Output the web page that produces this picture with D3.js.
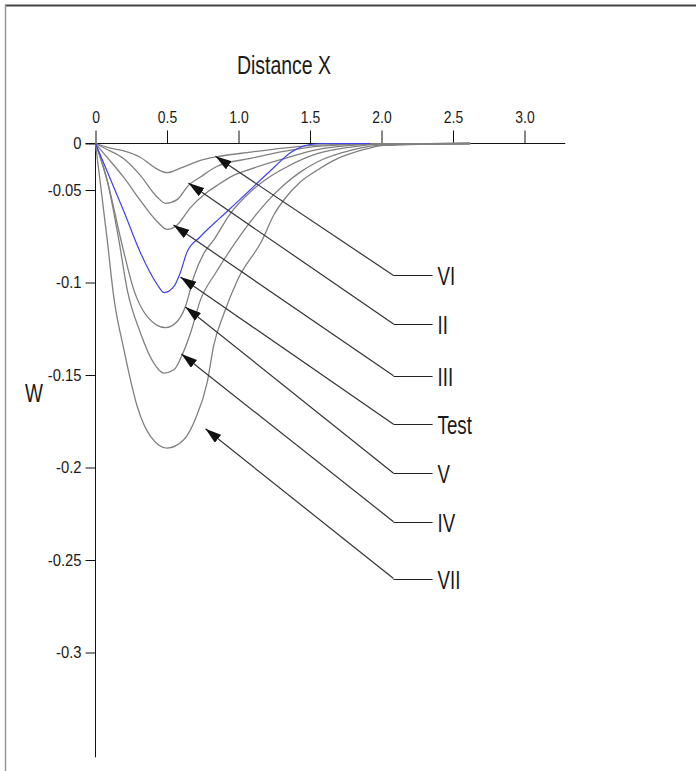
<!DOCTYPE html>
<html>
<head>
<meta charset="utf-8">
<script src="https://cdn.jsdelivr.net/npm/d3@7"></script>
<style>
  html, body { margin: 0; padding: 0; background: #fff; }
  svg { display: block; }
  text { font-family: "Liberation Sans", Arial, sans-serif; fill: #1a1a1a; }
</style>
</head>
<body>
<div id="chart"></div>
<script>
// Tick labels
const xTicks = [0, 0.5, 1.0, 1.5, 2.0, 2.5, 3.0];
const yTicks = [0, -0.05, -0.1, -0.15, -0.2, -0.25, -0.3];

// Curves, [distance X, W]
const curveVI = [[0,0],[0.105,-0.0050],[0.198,-0.0080],[0.315,-0.0150],[0.431,-0.0275],[0.501,-0.0314],[0.594,-0.0265],[0.734,-0.0181],[0.851,-0.0142],[1.084,-0.0093],[1.315,-0.0050],[1.55,-0.0018],[2.0,-0.0004],[2.62,0]];
const curveII = [[0,0],[0.08,-0.0064],[0.198,-0.0165],[0.315,-0.0345],[0.431,-0.0538],[0.49,-0.0572],[0.571,-0.0552],[0.65,-0.0450],[0.734,-0.0360],[0.851,-0.0245],[1.084,-0.0160],[1.315,-0.0085],[1.55,-0.0030],[2.0,-0.0005],[2.62,0]];
const curveIII = [[0,0],[0.08,-0.0146],[0.198,-0.0365],[0.315,-0.0558],[0.431,-0.0670],[0.50,-0.0713],[0.571,-0.0689],[0.664,-0.0595],[0.776,-0.0515],[0.851,-0.0450],[0.969,-0.0340],[1.084,-0.0275],[1.315,-0.0165],[1.55,-0.0065],[1.78,-0.0020],[2.0,-0.0004],[2.62,0]];
const curveTest = [[0,0],[0.082,-0.030],[0.198,-0.0615],[0.315,-0.0840],[0.431,-0.1010],[0.48,-0.1055],[0.55,-0.1020],[0.594,-0.0945],[0.64,-0.0835],[0.731,-0.0754],[0.871,-0.0651],[1.011,-0.0551],[1.150,-0.0398],[1.255,-0.0247],[1.360,-0.0102],[1.430,-0.0043],[1.500,-0.0011],[1.60,0],[1.92,0]];
const curveV = [[0,0],[0.082,-0.040],[0.187,-0.080],[0.268,-0.1040],[0.362,-0.1184],[0.49,-0.1244],[0.571,-0.1211],[0.629,-0.1130],[0.688,-0.0968],[0.758,-0.0842],[0.827,-0.0770],[0.944,-0.0626],[1.084,-0.0509],[1.201,-0.0376],[1.317,-0.0269],[1.55,-0.0110],[1.783,-0.0039],[2.016,-0.0003],[2.62,0]];
const curveIV = [[0,0],[0.082,-0.040],[0.163,-0.0770],[0.222,-0.1040],[0.315,-0.1274],[0.408,-0.1436],[0.478,-0.1490],[0.548,-0.1472],[0.606,-0.1391],[0.664,-0.1274],[0.734,-0.1094],[0.839,-0.0950],[0.991,-0.0770],[1.084,-0.0671],[1.200,-0.0563],[1.317,-0.0447],[1.434,-0.0305],[1.550,-0.0199],[1.783,-0.0074],[2.014,-0.0014],[2.62,0]];
const curveVII = [[0,0],[0.082,-0.0770],[0.128,-0.1080],[0.198,-0.1360],[0.292,-0.1670],[0.385,-0.1832],[0.501,-0.1895],[0.617,-0.1850],[0.700,-0.1735],[0.781,-0.1540],[0.827,-0.1340],[0.897,-0.1170],[0.991,-0.0990],[1.166,-0.0770],[1.247,-0.0635],[1.317,-0.0554],[1.434,-0.0412],[1.550,-0.0287],[1.667,-0.0181],[1.783,-0.0110],[1.900,-0.0056],[2.016,-0.0021],[2.62,0]];

// Annotations: label, arrow tip (X, W), label row W
const labels = ["VI", "II", "III", "Test", "V", "IV", "VII"];
const labelCurves = [curveVI, curveII, curveIII, curveTest, curveV, curveIV, curveVII];
const arrowTips = [[0.839,-0.0138],[0.650,-0.0426],[0.545,-0.0689],[0.594,-0.0970],[0.629,-0.1132],[0.601,-0.1386],[0.769,-0.1791]];
const labelW = [-0.0962, -0.1224, -0.1504, -0.1766, -0.2031, -0.2293, -0.2600];
const labelX = [2.084, 2.357];

const width = 696, height = 771;

const x = d3.scaleLinear().domain([0, 3]).range([95.5, 524.5]);
// the W axis is compressed between 0 and -0.05 in the original
const y = d3.scaleLinear().domain([0, -0.05, -0.3]).range([143.5, 190, 652.5]);

const svg = d3.select("#chart").append("svg")
  .attr("width", width)
  .attr("height", height);

// frame
svg.append("line").attr("x1", 5).attr("x2", width).attr("y1", 5.5).attr("y2", 5.5)
  .attr("stroke", "#444").attr("stroke-width", 2);
svg.append("line").attr("x1", 5.5).attr("x2", 5.5).attr("y1", 5).attr("y2", height)
  .attr("stroke", "#999").attr("stroke-width", 1.5);

// squeeze text horizontally (original type is condensed)
function squeeze(sel, k) {
  sel.each(function() {
    const t = d3.select(this);
    const tx = +t.attr("x") || 0;
    t.attr("x", tx / k).attr("transform", `scale(${k},1)`);
  });
}

// X axis (on top)
const xAxis = svg.append("g")
  .attr("transform", `translate(0,${y(0)})`)
  .call(d3.axisTop(x).tickValues(xTicks).tickSize(13).tickPadding(8)
    .tickFormat(d => d === 0 ? "0" : d.toFixed(1)));
xAxis.select(".domain").remove();
xAxis.selectAll("line").attr("stroke", "#111");
xAxis.selectAll("text").attr("font-size", 17).attr("fill", "#222")
  .attr("font-family", "Liberation Sans, Arial, sans-serif").call(squeeze, 0.82);

svg.append("line")
  .attr("x1", x(-0.07)).attr("x2", x(3.285))
  .attr("y1", y(0)).attr("y2", y(0))
  .attr("stroke", "#111");

// Y axis
const yAxis = svg.append("g")
  .attr("transform", `translate(${x(0)},0)`)
  .call(d3.axisLeft(y).tickValues(yTicks).tickSize(10).tickPadding(4)
    .tickFormat(d => d === 0 ? "0" : String(d)));
yAxis.select(".domain").remove();
yAxis.selectAll("line").attr("stroke", "#111");
yAxis.selectAll("text").attr("font-size", 17).attr("fill", "#222")
  .attr("font-family", "Liberation Sans, Arial, sans-serif").call(squeeze, 0.87);

svg.append("line")
  .attr("x1", x(0)).attr("x2", x(0))
  .attr("y1", y(0)).attr("y2", y(-0.3567))
  .attr("stroke", "#111");

// titles
svg.append("text")
  .attr("transform", "translate(284,74) scale(0.78,1)")
  .attr("text-anchor", "middle")
  .attr("font-size", 25)
  .text("Distance X");

svg.append("text")
  .attr("transform", "translate(34,402) scale(0.76,1)")
  .attr("text-anchor", "middle")
  .attr("font-size", 25)
  .text("W");

// curves
const line = d3.line()
  .x(d => x(d[0]))
  .y(d => y(d[1]))
  .curve(d3.curveMonotoneX);

const grayCurves = labelCurves.filter(c => c !== curveTest);
svg.append("g")
  .selectAll("path")
  .data(grayCurves)
  .enter().append("path")
  .attr("d", line)
  .attr("fill", "none")
  .attr("stroke", "#808080")
  .attr("stroke-width", 1.3);

svg.append("path")
  .datum(curveTest)
  .attr("d", line)
  .attr("fill", "none")
  .attr("stroke", "#4040f0")
  .attr("stroke-width", 1.2);

// arrows
svg.append("defs").append("marker")
  .attr("id", "ah")
  .attr("viewBox", "0 -5 16 10")
  .attr("refX", 16).attr("refY", 0)
  .attr("markerWidth", 16).attr("markerHeight", 10)
  .attr("markerUnits", "userSpaceOnUse")
  .attr("orient", "auto")
  .append("path")
  .attr("d", "M0,-5L16,0L0,5Z")
  .attr("fill", "#111");

const ann = svg.append("g")
  .selectAll("g")
  .data(labels)
  .enter().append("g");

ann.append("line")
  .attr("x1", (d, i) => x(labelX[0]))
  .attr("y1", (d, i) => y(labelW[i]))
  .attr("x2", (d, i) => x(arrowTips[i][0]))
  .attr("y2", (d, i) => y(arrowTips[i][1]))
  .attr("stroke", "#333")
  .attr("stroke-width", 1.2)
  .attr("marker-end", "url(#ah)");

ann.append("line")
  .attr("x1", x(labelX[0]))
  .attr("x2", x(labelX[1]))
  .attr("y1", (d, i) => Math.round(y(labelW[i])) + 0.5)
  .attr("y2", (d, i) => Math.round(y(labelW[i])) + 0.5)
  .attr("stroke", "#222")
  .attr("stroke-width", 1.2);

ann.append("text")
  .attr("transform", (d, i) => `translate(${x(labelX[1]) + 5},${y(labelW[i]) + 10}) scale(0.72,1)`)
  .attr("font-size", 26)
  .text(d => d);
</script>
</body>
</html>
